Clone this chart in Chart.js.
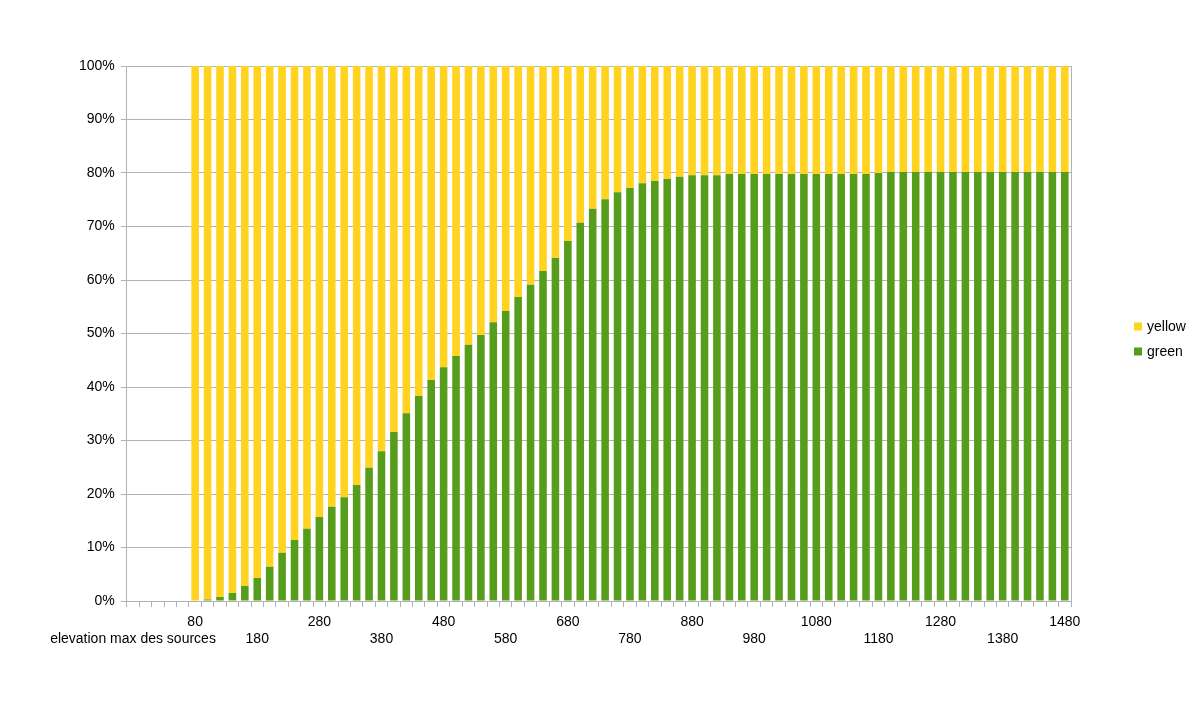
<!DOCTYPE html>
<html>
<head>
<meta charset="utf-8">
<title>elevation max des sources</title>
<script src="https://cdn.jsdelivr.net/npm/chart.js@4/dist/chart.umd.min.js"></script>
<style>
  html, body { margin: 0; padding: 0; background: #fff; }
  #wrap { width: 1199px; height: 716px; }
</style>
</head>
<body>
<div id="wrap"><canvas id="chart" width="1199" height="716"></canvas></div>
<script>
// categories: first one is the column header, then elevations (m)
const elevations = [
    'elevation max des sources', '0', '20', '40', '60',
    '80', '100', '120', '140', '160', '180', '200', '220', '240', '260',
    '280', '300', '320', '340', '360', '380', '400', '420', '440', '460',
    '480', '500', '520', '540', '560', '580', '600', '620', '640', '660',
    '680', '700', '720', '740', '760', '780', '800', '820', '840', '860',
    '880', '900', '920', '940', '960', '980', '1000', '1020', '1040', '1060',
    '1080', '1100', '1120', '1140', '1160', '1180', '1200', '1220', '1240', '1260',
    '1280', '1300', '1320', '1340', '1360', '1380', '1400', '1420', '1440', '1460', '1480'
];

// share in %
const green = [
    null, null, null, null, null,
    0.1, 0.3, 0.75, 1.5, 2.8, 4.3, 6.4, 9.0, 11.4, 13.5,
    15.7, 17.6, 19.4, 21.7, 24.9, 28.0, 31.6, 35.1, 38.3, 41.3,
    43.7, 45.8, 47.9, 49.7, 52.1, 54.2, 56.8, 59.1, 61.7, 64.1,
    67.3, 70.7, 73.3, 75.1, 76.4, 77.2, 78.1, 78.5, 78.9, 79.3,
    79.6, 79.6, 79.6, 79.8, 79.8, 79.8, 79.8, 79.8, 79.8, 79.8,
    79.8, 79.8, 79.8, 79.8, 79.8, 80.0, 80.2, 80.2, 80.2, 80.2,
    80.2, 80.2, 80.2, 80.2, 80.2, 80.2, 80.2, 80.2, 80.2, 80.2, 80.2
];

const yellow = [
    null, null, null, null, null,
    99.9, 99.7, 99.25, 98.5, 97.2, 95.7, 93.6, 91.0, 88.6, 86.5,
    84.3, 82.4, 80.6, 78.3, 75.1, 72.0, 68.4, 64.9, 61.7, 58.7,
    56.3, 54.2, 52.1, 50.3, 47.9, 45.8, 43.2, 40.9, 38.3, 35.9,
    32.7, 29.3, 26.7, 24.9, 23.6, 22.8, 21.9, 21.5, 21.1, 20.7,
    20.4, 20.4, 20.4, 20.2, 20.2, 20.2, 20.2, 20.2, 20.2, 20.2,
    20.2, 20.2, 20.2, 20.2, 20.2, 20.0, 19.8, 19.8, 19.8, 19.8,
    19.8, 19.8, 19.8, 19.8, 19.8, 19.8, 19.8, 19.8, 19.8, 19.8, 19.8
];

const yTicks = [0, 10, 20, 30, 40, 50, 60, 70, 80, 90, 100];

const GRID = '#b3b3b3';
const FONT = '"Liberation Sans", Arial, sans-serif';

Chart.defaults.font.family = FONT;
Chart.defaults.font.size = 14;
Chart.defaults.color = '#000';

// legend to the right of the plot, yellow above green
const sideLegend = {
    id: 'sideLegend',
    afterDraw(chart) {
        const { ctx, chartArea } = chart;
        const x = chartArea.right + 63;
        let y = (chartArea.top + chartArea.bottom) / 2 - 7;
        ctx.save();
        ctx.font = '14px ' + FONT;
        ctx.textBaseline = 'middle';
        chart.data.datasets.slice().reverse().forEach(ds => {
            ctx.fillStyle = ds.backgroundColor;
            ctx.fillRect(x, y - 4, 8, 8);
            ctx.fillStyle = '#000';
            ctx.fillText(ds.label, x + 13, y + 1);
            y += 25;
        });
        ctx.restore();
    }
};

new Chart(document.getElementById('chart'), {
    type: 'bar',
    data: {
        labels: elevations,
        datasets: [
            { label: 'green', data: green, backgroundColor: '#579d1c' },
            { label: 'yellow', data: yellow, backgroundColor: '#ffd320' }
        ]
    },
    options: {
        responsive: false,
        animation: false,
        layout: { padding: { left: 73, top: 66, right: 128, bottom: 62 } },
        datasets: { bar: { barPercentage: 0.61, categoryPercentage: 1 } },
        plugins: { legend: { display: false }, tooltip: { enabled: false } },
        scales: {
            x: {
                stacked: true,
                border: { color: GRID },
                grid: {
                    offset: true,
                    color: c => c.type === 'scale' ? GRID : 'rgba(0,0,0,0)',
                    tickColor: GRID,
                    tickLength: 6
                },
                ticks: {
                    autoSkip: false,
                    maxRotation: 0,
                    minRotation: 0,
                    padding: 6,
                    font: { size: 14, lineHeight: 1.25 },
                    callback(value, index) {
                        if (index % 5) return '';
                        const text = this.getLabelForValue(value);
                        return (index / 5) % 2 ? text : ['', text];
                    }
                }
            },
            y: {
                stacked: true,
                min: 0,
                max: 100,
                border: { color: GRID },
                grid: { color: GRID, tickLength: 6 },
                afterBuildTicks: scale => { scale.ticks = yTicks.map(v => ({ value: v })); },
                ticks: { padding: 6, callback: v => v + '%' }
            }
        }
    },
    plugins: [sideLegend]
});
</script>
</body>
</html>
